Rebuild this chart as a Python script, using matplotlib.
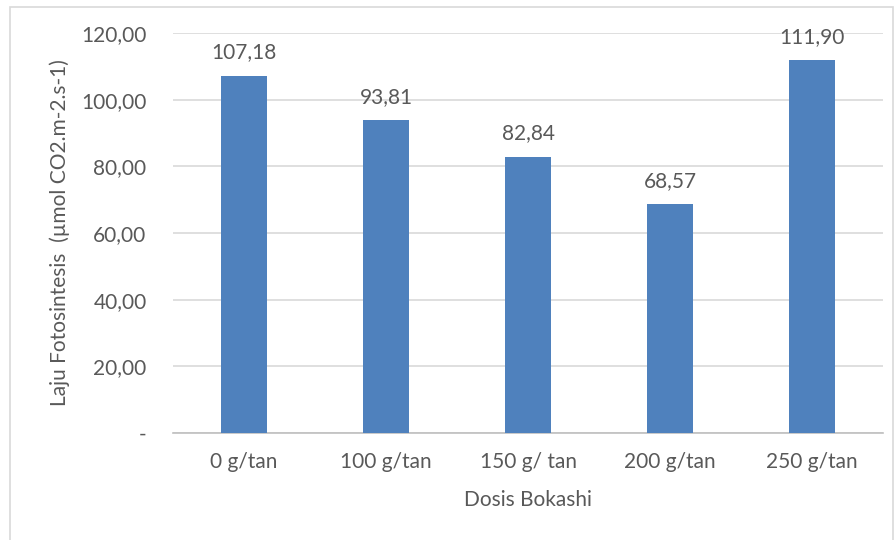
import matplotlib
matplotlib.use("Agg")
import matplotlib.pyplot as plt
from matplotlib.patches import Rectangle

categories = ["0 g/tan", "100 g/tan", "150 g/ tan", "200 g/tan", "250 g/tan"]
values = [107.18, 93.81, 82.84, 68.57, 111.90]
yticks = [0, 20, 40, 60, 80, 100, 120]
ytick_labels = ["-", "20,00", "40,00", "60,00", "80,00", "100,00", "120,00"]

plt.rcParams['font.family'] = ['Lato', 'DejaVu Sans']
txt = "#595959"
fs = 15

fig = plt.figure(figsize=(8.96, 5.4), dpi=100)
fig.patches.append(Rectangle((10/896, -0.05), (893-10)/896, 1.05 - 7/540,
                             transform=fig.transFigure, fill=False,
                             edgecolor="#D9D9D9", linewidth=1.2))
ax = fig.add_axes([173/896, 1-433/540, 710/896, 400/540])
x = range(len(categories))
ax.bar(x, values, width=0.32, color="#4F81BD", zorder=3)
ax.set_xlim(-0.5, len(categories)-0.5)
ax.set_ylim(0, 120)
ax.set_yticks(yticks)
ax.set_yticklabels(ytick_labels)
ax.set_xticks(list(x))
ax.set_xticklabels(categories)
ax.yaxis.grid(True, color="#D9D9D9", linewidth=1.2, zorder=0)
for s in ["top", "right", "left"]:
    ax.spines[s].set_visible(False)
ax.spines["bottom"].set_color("#BFBFBF")
ax.spines["bottom"].set_linewidth(1.2)
ax.tick_params(axis="both", length=0, labelsize=fs, colors=txt)
ax.tick_params(axis="y", pad=19)
ax.tick_params(axis="x", pad=14)
for xi, v in zip(x, values):
    ax.text(xi, v + 4, f"{v:.2f}".replace(".", ","), ha="center", va="bottom",
            fontsize=fs, color=txt)
ax.set_ylabel("Laju Fotosintesis  (µmol CO2.m-2.s-1)", fontsize=fs, color=txt,
              va="center")
ax.yaxis.set_label_coords((60-173)/710, 0.5)
ax.set_xlabel("Dosis Bokashi", fontsize=fs, color=txt, va="center")
ax.xaxis.set_label_coords(0.5, -(500-433)/400)
fig.savefig("out.png", dpi=100)
